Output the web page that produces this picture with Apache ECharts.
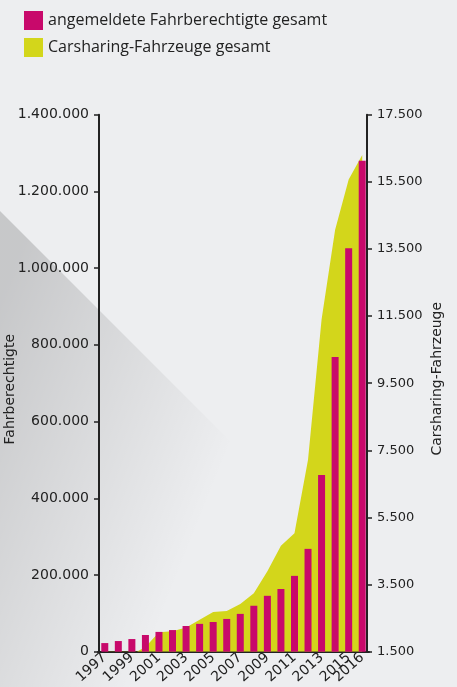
<!DOCTYPE html>
<html lang="de">
<head>
<meta charset="utf-8">
<title>Carsharing in Deutschland 1997–2016</title>
<script src="https://cdn.jsdelivr.net/npm/echarts@6/dist/echarts.min.js"></script>
<style>
  html, body { margin: 0; padding: 0; background: #edeef0; }
  #chart { width: 457px; height: 687px; }
</style>
</head>
<body>
<div id="chart"></div>
<script>
// Jahre (Kategorien)
const years = ['1997', '1998', '1999', '2000', '2001', '2002', '2003', '2004', '2005', '2006',
               '2007', '2008', '2009', '2010', '2011', '2012', '2013', '2014', '2015', '2016'];

// angemeldete Fahrberechtigte gesamt (linke Achse)
const fahrberechtigte = [22500, 27800, 33000, 43600, 51600, 56400, 67000, 72600, 77500, 85400,
                         98600, 119800, 145700, 163400, 197700, 268100, 460500, 768000, 1052000, 1280000];

// Carsharing-Fahrzeuge gesamt (rechte Achse)
const fahrzeuge = [1100, 1300, 1420, 1640, 2080, 2110, 2220, 2450, 2680, 2710,
                   2920, 3245, 3900, 4660, 5030, 7220, 11400, 14070, 15570, 16300];

// Achsenskalen
const leftTicks = [0, 200000, 400000, 600000, 800000, 1000000, 1200000, 1400000];
const rightTicks = [1500, 3500, 5500, 7500, 9500, 11500, 13500, 15500, 17500];

const nameBars = 'angemeldete Fahrberechtigte gesamt';
const nameArea = 'Carsharing-Fahrzeuge gesamt';

const magenta = '#c8096b';
const yellow = '#d3d61b';
const ink = '#222222';

function deNumber(v) {
  return String(v).replace(/\B(?=(\d{3})+(?!\d))/g, '.');
}

const lastIndex = years.length - 1;

// gemeinsame Beschriftung der Jahresachse
function yearLabel(intervalFn) {
  return {
    rotate: 42,
    margin: 4,
    color: ink,
    fontFamily: 'DejaVu Sans',
    fontSize: 14,
    hideOverlap: false,
    showMinLabel: true,
    showMaxLabel: true,
    interval: intervalFn
  };
}

const chart = echarts.init(document.getElementById('chart'), null, { renderer: 'canvas' });

chart.setOption({
  backgroundColor: '#edeef0',
  animation: false,
  graphic: [{
    type: 'polygon',
    z: -10,
    silent: true,
    shape: { points: [[0, 211], [476, 687], [0, 687]] },
    style: {
      fill: {
        type: 'linear', global: true,
        x: 0, y: 300, x2: 250, y2: 400,
        colorStops: [
          { offset: 0, color: 'rgba(0,0,0,0.16)' },
          { offset: 1, color: 'rgba(0,0,0,0)' }
        ]
      }
    }
  }],
  legend: {
    orient: 'vertical',
    left: 19,
    top: 6,
    itemWidth: 19,
    itemHeight: 19,
    itemGap: 8,
    textStyle: { fontFamily: 'Open Sans', fontSize: 16, color: ink },
    data: [
      { name: nameBars, icon: 'rect', itemStyle: { color: magenta } },
      { name: nameArea, icon: 'rect', itemStyle: { color: yellow } }
    ]
  },
  grid: { left: 98, right: 88, top: 114.7, bottom: 35.3, outerBoundsMode: 'none', containLabel: false },
  xAxis: [{
    // ungerade Jahre
    type: 'category',
    position: 'bottom',
    data: years,
    boundaryGap: true,
    axisLine: { lineStyle: { color: ink, width: 2 } },
    axisTick: { show: false },
    axisLabel: yearLabel(function (index, value) {
      return Number(value) % 2 === 1;
    }),
    splitLine: { show: false }
  }, {
    // letztes Jahr zusätzlich
    type: 'category',
    position: 'bottom',
    offset: 0,
    data: years,
    boundaryGap: true,
    axisLine: { show: false },
    axisTick: { show: false },
    axisLabel: yearLabel(function (index) {
      return index === lastIndex;
    }),
    splitLine: { show: false }
  }],
  yAxis: [{
    type: 'value',
    position: 'left',
    offset: -1,
    min: leftTicks[0],
    max: leftTicks[leftTicks.length - 1],
    interval: leftTicks[1] - leftTicks[0],
    name: 'Fahrberechtigte',
    nameLocation: 'middle',
    nameMoveOverlap: false,
    nameGap: 82,
    nameTextStyle: { fontFamily: 'DejaVu Sans', fontSize: 14, color: ink, padding: [0, 12, 0, 0] },
    axisLine: { show: true, lineStyle: { color: ink, width: 2 } },
    axisTick: { show: true, length: 5, lineStyle: { color: ink, width: 1.5 } },
    axisLabel: {
      margin: 10,
      color: ink,
      fontFamily: 'DejaVu Sans',
      fontSize: 14,
      formatter: deNumber
    },
    splitLine: { show: false }
  }, {
    type: 'value',
    position: 'right',
    offset: -2,
    min: rightTicks[0],
    max: rightTicks[rightTicks.length - 1],
    name: 'Carsharing-Fahrzeuge',
    nameLocation: 'middle',
    nameMoveOverlap: false,
    nameRotate: 90,
    nameGap: 63,
    nameTextStyle: { fontFamily: 'DejaVu Sans', fontSize: 14, color: ink, padding: [0, 0, 0, 9] },
    axisLine: { show: true, lineStyle: { color: ink, width: 2 } },
    axisTick: { show: true, length: 5, customValues: rightTicks, lineStyle: { color: ink, width: 1.5 } },
    axisLabel: {
      margin: 10,
      color: ink,
      fontFamily: 'DejaVu Sans',
      fontSize: 13,
      customValues: rightTicks,
      formatter: deNumber
    },
    splitLine: { show: false }
  }],
  series: [{
    name: nameArea,
    type: 'line',
    xAxisIndex: 0,
    yAxisIndex: 1,
    data: fahrzeuge,
    smooth: false,
    showSymbol: false,
    symbol: 'none',
    clip: true,
    z: 1,
    color: yellow,
    lineStyle: { width: 0, color: yellow },
    itemStyle: { color: yellow },
    areaStyle: { color: yellow, opacity: 1 }
  }, {
    name: nameBars,
    type: 'bar',
    xAxisIndex: 0,
    yAxisIndex: 0,
    data: fahrberechtigte,
    barWidth: 7,
    z: 3,
    itemStyle: { color: magenta }
  }]
});
</script>
</body>
</html>
